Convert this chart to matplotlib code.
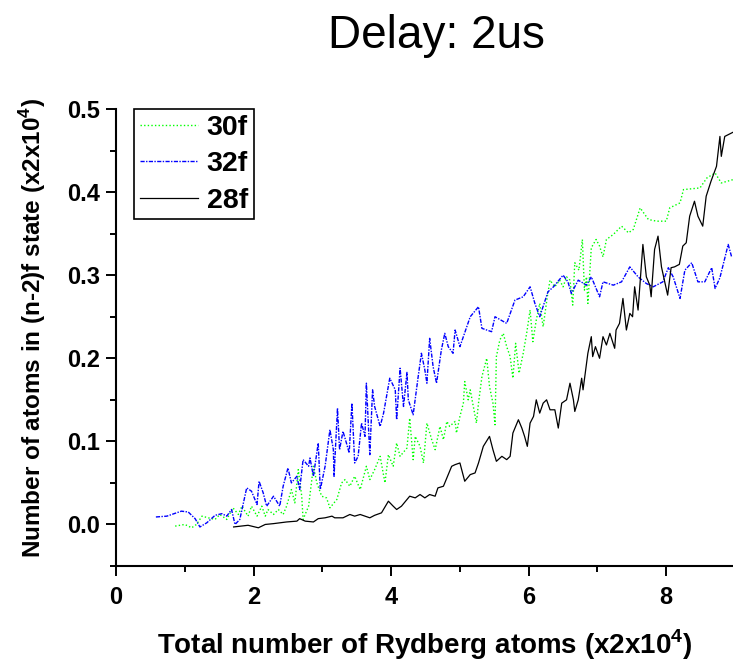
import matplotlib
matplotlib.use("Agg")
import matplotlib.pyplot as plt
from matplotlib.ticker import MultipleLocator, FormatStrFormatter

plt.rcParams['font.family'] = ['Liberation Sans', 'DejaVu Sans']
plt.rcParams['mathtext.fontset'] = 'custom'
plt.rcParams['mathtext.rm'] = 'Liberation Sans'
plt.rcParams['mathtext.bf'] = 'Liberation Sans:bold'

# --- data -------------------------------------------------------------
x_30f = [0.86, 1.00, 1.10, 1.17, 1.25, 1.34, 1.44, 1.51, 1.61, 1.70,
         1.78, 1.83, 1.92, 1.97, 2.05, 2.12, 2.17, 2.21, 2.29, 2.36,
         2.43, 2.48, 2.55, 2.60, 2.65, 2.70, 2.72, 2.80, 2.87, 2.92,
         2.99, 3.06, 3.11, 3.21, 3.28, 3.33, 3.40, 3.47, 3.55, 3.64,
         3.69, 3.76, 3.84, 3.91, 3.96, 4.03, 4.08, 4.13, 4.23, 4.27,
         4.32, 4.35, 4.42, 4.47, 4.52, 4.59, 4.64, 4.71, 4.76, 4.81,
         4.85, 4.93, 4.95, 5.00, 5.05, 5.07, 5.12, 5.15, 5.19, 5.24,
         5.27, 5.32, 5.39, 5.43, 5.48, 5.51, 5.53, 5.58, 5.63, 5.68,
         5.73, 5.77, 5.81, 5.86, 5.92, 5.97, 6.02, 6.06, 6.11, 6.16,
         6.21, 6.27, 6.31, 6.38, 6.45, 6.50, 6.55, 6.60, 6.64, 6.67,
         6.73, 6.78, 6.81, 6.84, 6.86, 6.91, 6.98, 7.03, 7.08, 7.13,
         7.23, 7.35, 7.45, 7.52, 7.62, 7.74, 7.86, 8.00, 8.05, 8.20,
         8.25, 8.49, 8.59, 8.71, 8.80, 8.97]
y_30f = [-0.002, 0.000, -0.004, 0.000, 0.010, 0.008, 0.006, 0.012, 0.006, 0.020,
         0.012, 0.022, 0.010, 0.022, 0.010, 0.022, 0.010, 0.018, 0.012, 0.018,
         0.012, 0.022, 0.042, 0.026, 0.066, 0.034, 0.006, 0.022, 0.070, 0.050,
         0.034, 0.032, 0.020, 0.030, 0.050, 0.054, 0.046, 0.058, 0.042, 0.070,
         0.054, 0.066, 0.082, 0.050, 0.084, 0.070, 0.098, 0.082, 0.092, 0.128,
         0.078, 0.106, 0.094, 0.074, 0.122, 0.102, 0.090, 0.118, 0.102, 0.124,
         0.118, 0.124, 0.110, 0.130, 0.146, 0.172, 0.150, 0.162, 0.144, 0.122,
         0.146, 0.178, 0.200, 0.166, 0.146, 0.120, 0.202, 0.222, 0.230, 0.214,
         0.202, 0.176, 0.218, 0.182, 0.206, 0.230, 0.258, 0.220, 0.246, 0.266,
         0.238, 0.274, 0.294, 0.286, 0.294, 0.286, 0.298, 0.294, 0.264, 0.315,
         0.306, 0.343, 0.282, 0.298, 0.266, 0.333, 0.343, 0.335, 0.322, 0.343,
         0.349, 0.359, 0.351, 0.355, 0.381, 0.367, 0.365, 0.365, 0.381, 0.387,
         0.403, 0.405, 0.417, 0.423, 0.411, 0.415]

x_32f = [0.58, 0.74, 0.95, 1.05, 1.15, 1.22, 1.32, 1.44, 1.54, 1.61,
         1.68, 1.73, 1.80, 1.90, 1.97, 2.05, 2.08, 2.14, 2.19, 2.29,
         2.38, 2.43, 2.50, 2.55, 2.63, 2.67, 2.72, 2.80, 2.82, 2.87,
         2.94, 2.97, 3.04, 3.11, 3.16, 3.17, 3.22, 3.25, 3.30, 3.35,
         3.39, 3.43, 3.47, 3.52, 3.57, 3.62, 3.64, 3.69, 3.73, 3.76,
         3.84, 3.89, 3.98, 4.06, 4.08, 4.13, 4.18, 4.23, 4.25, 4.32,
         4.39, 4.44, 4.49, 4.52, 4.56, 4.61, 4.66, 4.73, 4.78, 4.83,
         4.90, 4.93, 5.00, 5.15, 5.27, 5.32, 5.46, 5.51, 5.68, 5.80,
         5.92, 6.02, 6.09, 6.16, 6.28, 6.36, 6.50, 6.57, 6.62, 6.72,
         6.84, 6.91, 7.03, 7.08, 7.23, 7.35, 7.47, 7.59, 7.71, 7.81,
         7.95, 8.03, 8.10, 8.20, 8.27, 8.37, 8.46, 8.56, 8.66, 8.71,
         8.78, 8.90, 8.95]
y_32f = [0.009, 0.010, 0.016, 0.015, 0.007, -0.003, 0.002, 0.011, 0.013, 0.010,
         0.018, 0.000, 0.006, 0.044, 0.040, 0.024, 0.052, 0.038, 0.022, 0.034,
         0.022, 0.046, 0.068, 0.050, 0.058, 0.042, 0.078, 0.070, 0.080, 0.058,
         0.098, 0.042, 0.070, 0.114, 0.090, 0.058, 0.140, 0.090, 0.112, 0.098,
         0.086, 0.146, 0.074, 0.082, 0.122, 0.106, 0.170, 0.084, 0.162, 0.142,
         0.118, 0.134, 0.176, 0.162, 0.126, 0.188, 0.142, 0.183, 0.150, 0.132,
         0.176, 0.206, 0.186, 0.170, 0.224, 0.190, 0.170, 0.210, 0.230, 0.214,
         0.206, 0.234, 0.214, 0.250, 0.262, 0.236, 0.232, 0.250, 0.242, 0.270,
         0.274, 0.286, 0.266, 0.250, 0.280, 0.286, 0.300, 0.292, 0.278, 0.294,
         0.288, 0.298, 0.274, 0.292, 0.288, 0.292, 0.310, 0.298, 0.290, 0.286,
         0.292, 0.309, 0.298, 0.272, 0.306, 0.315, 0.292, 0.292, 0.309, 0.284,
         0.297, 0.337, 0.322]

x_28f = [1.71, 1.92, 2.07, 2.17, 2.29, 2.48, 2.63, 2.67, 2.75, 2.87,
         2.94, 3.04, 3.14, 3.18, 3.30, 3.35, 3.40, 3.47, 3.55, 3.62,
         3.69, 3.76, 3.86, 3.96, 4.03, 4.08, 4.15, 4.23, 4.27, 4.35,
         4.42, 4.49, 4.56, 4.64, 4.68, 4.76, 4.81, 4.88, 4.93, 5.00,
         5.07, 5.15, 5.22, 5.27, 5.34, 5.43, 5.48, 5.53, 5.61, 5.68,
         5.73, 5.77, 5.85, 5.90, 5.94, 5.98, 6.02, 6.07, 6.11, 6.16,
         6.21, 6.26, 6.31, 6.38, 6.43, 6.48, 6.55, 6.60, 6.65, 6.67,
         6.72, 6.77, 6.79, 6.86, 6.91, 6.93, 6.97, 7.03, 7.08, 7.13,
         7.18, 7.25, 7.27, 7.32, 7.37, 7.42, 7.47, 7.51, 7.54, 7.59,
         7.66, 7.71, 7.76, 7.78, 7.83, 7.88, 7.93, 7.98, 8.02, 8.07,
         8.12, 8.19, 8.24, 8.29, 8.34, 8.41, 8.46, 8.53, 8.58, 8.65,
         8.73, 8.78, 8.80, 8.85, 8.97]
y_28f = [-0.003, -0.001, -0.004, 0.000, 0.001, 0.003, 0.004, 0.007, 0.004, 0.003,
         0.007, 0.008, 0.010, 0.008, 0.008, 0.010, 0.012, 0.010, 0.012, 0.010,
         0.008, 0.011, 0.014, 0.028, 0.022, 0.018, 0.022, 0.030, 0.034, 0.032,
         0.036, 0.032, 0.036, 0.034, 0.044, 0.046, 0.056, 0.070, 0.072, 0.074,
         0.052, 0.060, 0.062, 0.074, 0.094, 0.106, 0.090, 0.076, 0.082, 0.078,
         0.082, 0.110, 0.126, 0.116, 0.106, 0.094, 0.122, 0.130, 0.150, 0.134,
         0.146, 0.150, 0.138, 0.138, 0.116, 0.146, 0.150, 0.170, 0.150, 0.136,
         0.150, 0.176, 0.162, 0.206, 0.226, 0.202, 0.214, 0.200, 0.226, 0.216,
         0.230, 0.212, 0.234, 0.242, 0.272, 0.234, 0.254, 0.250, 0.286, 0.258,
         0.337, 0.298, 0.288, 0.274, 0.331, 0.347, 0.310, 0.291, 0.276, 0.309,
         0.310, 0.313, 0.335, 0.339, 0.371, 0.389, 0.371, 0.359, 0.395, 0.413,
         0.431, 0.467, 0.443, 0.467, 0.472]

series_labels = ["30f", "32f", "28f"]
title_text = "Delay: 2us"
xlabel_text = r"Total number of Rydberg atoms (x2x10$^{\mathbf{4}}$)"
ylabel_text = r"Number of atoms in (n-2)f state (x2x10$^{\mathbf{4}}$)"

# --- figure -----------------------------------------------------------
W, H = 733, 661
fig = plt.figure(figsize=(W / 100, H / 100), dpi=100)
ax = fig.add_axes([116 / W, 1 - 566 / H, (W - 116) / W, (566 - 109) / H])

l30, = ax.plot(x_30f, y_30f, color="#00ff00", lw=1.0, linestyle=(0, (1, 1.6)))
l32, = ax.plot(x_32f, y_32f, color="#0000ff", lw=1.0, linestyle=(0, (3, 1, 1, 1)))
l28, = ax.plot(x_28f, y_28f, color="black", lw=0.9, linestyle="-")

ax.set_xlim(0, 8.97)
ax.set_ylim(-0.05, 0.5)

for side in ("top", "right"):
    ax.spines[side].set_visible(False)
for side in ("left", "bottom"):
    ax.spines[side].set_linewidth(1.5)

ax.xaxis.set_major_locator(MultipleLocator(2))
ax.xaxis.set_minor_locator(MultipleLocator(1))
ax.yaxis.set_major_locator(MultipleLocator(0.1))
ax.yaxis.set_minor_locator(MultipleLocator(0.05))
ax.yaxis.set_major_formatter(FormatStrFormatter("%.1f"))
ax.tick_params(which="major", direction="out", length=7.2, width=1.4, labelsize=17)
ax.tick_params(which="minor", direction="out", length=4.3, width=1.4)
ax.tick_params(axis="x", which="major", pad=7)
ax.tick_params(axis="y", which="major", pad=4)
for lab in ax.get_xticklabels() + ax.get_yticklabels():
    lab.set_fontweight("bold")

fig.text(436 / W, 1 - 48 / H, title_text, fontsize=33, ha="center", va="baseline")
fig.text(425 / W, 1 - 654 / H, xlabel_text, fontsize=20, fontweight="bold",
         ha="center", va="baseline")
fig.text(33 / W, 1 - 328 / H, ylabel_text, fontsize=17.5, fontweight="bold",
         ha="center", va="center", rotation=90)

leg = ax.legend([l30, l32, l28], series_labels, loc="upper left",
                bbox_to_anchor=(134 / W, 1 - 109 / H), bbox_transform=fig.transFigure,
                borderaxespad=0, fancybox=False, framealpha=1, edgecolor="black",
                prop={"weight": "bold", "size": 20.5}, handlelength=2.05,
                handletextpad=0.3, borderpad=0.2, labelspacing=0.37)
leg.get_frame().set_linewidth(1.2)

fig.savefig("out.png", dpi=100)
